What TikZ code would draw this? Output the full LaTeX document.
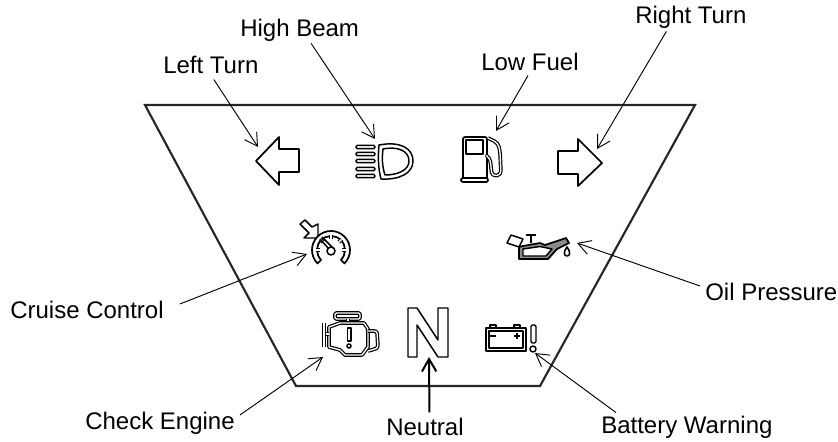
\documentclass[tikz,border=0pt]{standalone}
\usepackage{fontspec}
\setmainfont{Liberation Sans}
\usetikzlibrary{arrows.meta}
\usetikzlibrary{calc}
\tikzset{%
  >={Straight Barb[length=3.3mm,width=3.8mm]},
  % Specifications for style of nodes:
  base/.style = {inner sep=0pt, anchor=west, font=\fontsize{18}{20}\selectfont},
  icon/.style = {line width=1.3pt, line join=round, black},
  hollow/.style = {icon, double=white, double distance=1pt, line width=0.9pt},
  pointer/.style = {->, line width=0.7pt},
}
\begin{document}
\begin{tikzpicture}[x=0.75pt, y=-0.75pt]
  \useasboundingbox (0,0) rectangle (838,442);
  % Specification of labels
  \node (leftturn) [base] at (163,65) {Left Turn};
  \node (highbeam) [base] at (240,30) {High Beam};
  \node (lowfuel) [base] at (481,62) {Low Fuel};
  \node (rightturn) [base] at (635,17) {Right Turn};
  \node (cruise) [base] at (10,310) {Cruise Control};
  \node (oil) [base] at (705,292) {Oil Pressure};
  \node (engine) [base] at (85,423) {Check Engine};
  \node (neutral) [base] at (386,427) {Neutral};
  \node (battery) [base] at (601,427) {Battery Warning};
  % Panel
  \draw[line width=1.6pt, line join=miter, black!85] (145,105) -- (695,105) -- (540,386) -- (296,386) -- cycle;
  % Arrows and beam
  \draw[icon] (256,161) -- (279,137) -- (279,149) -- (299,149) -- (299,172) -- (279,172) -- (279,185) -- cycle;
  \draw[icon] (558,151) -- (578,151) -- (578,139) -- (602,163) -- (578,186) -- (578,174) -- (558,174) -- cycle;
  \foreach \y in {147,154,161,169,176}
    \draw[icon, line width=1.1pt, rounded corners=1pt] (356,\y-1.7) rectangle (375,\y+1.7);
  \draw[icon, line width=1.1pt] (379,145) .. controls (400,141) and (413,148) .. (413,161) .. controls (413,173) and (400,180) .. (381,179) .. controls (378,168) and (378,156) .. (379,145) -- cycle;
  \draw[icon, line width=1.1pt] (383,149) .. controls (398,146) and (409,151) .. (409,161) .. controls (409,170) and (398,175) .. (385,175) .. controls (382,166) and (382,158) .. (383,149) -- cycle;
  % Fuel pump
  \draw[icon, rounded corners=1.5pt] (463,178) -- (463,137) -- (487,137) -- (487,178);
  \draw[icon, rounded corners=1.5pt] (461,182) -- (461,178) -- (488,178) -- (488,182) -- cycle;
  \draw[icon, line width=1.1pt] (466,140) rectangle (483,154);
  \draw[hollow, rounded corners=3pt] (488,138) -- (498,143) -- (500,151) -- (501,175) -- (492,176) -- (490,158) -- (487,156);
  % Cruise control
  \draw[icon, line width=1.1pt] (300,224) -- (305,220) -- (312,227) -- (318,224) -- (318,238) -- (304,238) -- (309,233) -- cycle;
  \draw[icon, fill=white] ($(331,250)+(135:19)$) arc (135:405:19) -- ($(331,250)+(45:14)$) arc (405:135:14) -- cycle;
  \foreach \a in {180,225,270,315,360}
    \draw[hollow, line width=0.8pt, double distance=1.2pt] ($(331,250)+(\a:15)$) -- ($(331,250)+(\a:11)$);
  \draw[icon, line width=1.1pt] (320,239) -- (329,249) (322,237) -- (333,248);
  \draw[icon, line width=1.2pt, fill=white] (331,251) circle[radius=4];
  % Oil can
  \draw[icon, line width=1.3pt, fill=black!45] (519,259) -- (548,259) -- (557,249) -- (569,243) -- (566,238) -- (545,245) -- (540,243) -- (523,246) -- (519,247) -- cycle;
  \draw[icon, line width=1.1pt, fill=white] (523,249) -- (540,246.5) -- (552,249) -- (546,256) -- (523,256) -- cycle;
  \draw[icon, line width=1.1pt, fill=white] (507,243) -- (511,235) -- (523,239) -- (519,247) -- cycle;
  \draw[icon, line width=1.2pt, rounded corners=1pt] (526,235) -- (536,235) (531,235) -- (531,243);
  \draw[icon, line width=1.2pt, fill=white] (567,247) .. controls (571,252) and (570,256) .. (567,256) .. controls (564,256) and (563,252) .. (567,247) -- cycle;
  % Engine
  \draw[hollow, rounded corners=1pt] (335,313) -- (360,313) -- (360,319) -- (335,319) -- cycle;
  \draw[hollow] (348,319) -- (348,323);
  \draw[hollow] (329,327) -- (340,323) -- (364,323) -- (368,329) -- (368,347) -- (362,355) -- (345,355) -- (340,350) -- (329,347) -- cycle;
  \draw[hollow, double distance=1.8pt] (324,323) -- (324,347);
  \draw[hollow] (326,334) -- (329,334);
  \draw[hollow, rounded corners=2pt] (368,331) -- (377,331) -- (378,348) -- (368,351);
  \draw[icon, line width=1.1pt] (347.5,328) rectangle (351,341);
  \draw[icon, line width=1.2pt] (349,346) circle[radius=2];
  % Neutral
  \draw[icon, line width=1.1pt] (408,308) -- (417,308) -- (438,340) -- (438,308) -- (448,308) -- (448,357) -- (438,357) -- (417,325) -- (417,357) -- (408,357) -- cycle;
  % Battery
  \draw[icon, line width=1.6pt] (486,328) rectangle (526,351);
  \draw[icon, line width=0.9pt] (489,331) rectangle (523,348);
  \draw[icon, line width=1.1pt] (490,328) -- (490,325) -- (496,325) -- (496,328) (514,328) -- (514,325) -- (520,325) -- (520,328);
  \draw[icon, line width=1.2pt] (490,336) -- (496,336) (514,336) -- (520,336) (517,333) -- (517,339);
  \draw[icon, line width=1.1pt, rounded corners=1pt] (531,325) rectangle (536,343);
  \draw[icon, line width=1.1pt] (533,349) circle[radius=3];
  % Free ends of the connectors
  \coordinate (leftturn tip) at (258,147);
  \coordinate (highbeam tip) at (375,139);
  \coordinate (lowfuel tip) at (496,131);
  \coordinate (rightturn tip) at (597,149);
  \coordinate (cruise tip) at (307,254);
  \coordinate (oil tip) at (577,243);
  \coordinate (engine tip) at (323,357);
  \coordinate (neutral tip) at (429,357);
  \coordinate (battery tip) at (535,353);
  % Lines between labels and icons
  \draw[pointer] ([shift={(3,5.5)}]leftturn.south) -- (leftturn tip);
  \draw[pointer] ([shift={(11.5,2)}]highbeam.south) -- (highbeam tip);
  \draw[pointer] ([shift={(-2,4.5)}]lowfuel.south) -- (lowfuel tip);
  \draw[pointer] ([shift={(-24.5,3)}]rightturn.south) -- (rightturn tip);
  \draw[pointer] ([shift={(16,-6)}]cruise.east) -- (cruise tip);
  \draw[pointer] ([shift={(-5,-6)}]oil.west) -- (oil tip);
  \draw[pointer] ([shift={(5,-8)}]engine.east) -- (engine tip);
  \draw[pointer, line width=1.5pt] ([shift={(4.5,-5.5)}]neutral.north) -- (neutral tip);
  \draw[pointer] ([shift={(15,-3)}]battery.north west) -- (battery tip);
\end{tikzpicture}
\end{document}
